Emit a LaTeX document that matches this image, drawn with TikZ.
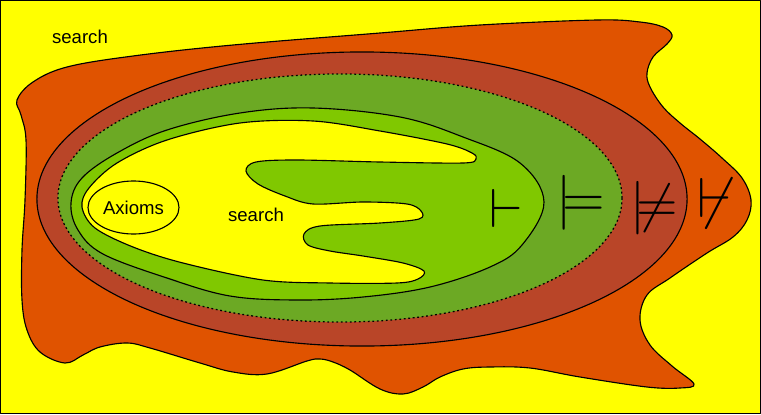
\documentclass[tikz,border=0pt]{standalone}
\usepackage{amsmath,amssymb}
\usepackage[no-math]{fontspec}
\setmainfont{Liberation Sans}
\usepackage{tikz}
\usetikzlibrary{calc,shapes.geometric}
\definecolor{bgyel}{HTML}{FFFF00}
\definecolor{srchorg}{HTML}{E05300}
\definecolor{entred}{HTML}{B94528}
\definecolor{modgrn}{HTML}{6CA924}
\definecolor{prvgrn}{HTML}{80C800}
\tikzset{outl/.style={draw=black,line width=0.8pt},
  lbl/.style={inner sep=0pt},
  sym/.style={inner sep=0pt,font=\fontsize{10}{10}\selectfont}}

\begin{document}
\begin{tikzpicture}[x=0.025cm,y=-0.025cm,line join=round,font=\fontsize{13.2}{15.8}\selectfont]
\useasboundingbox (0,0) rectangle (761,414);
% --- 1: background and outer search area
\draw[line width=1pt,fill=bgyel] (0.5,0.5) rectangle (760.5,413.5);
\draw[outl,fill=srchorg] plot[smooth cycle,tension=0.6] coordinates {
  (17,100) (33,82) (67,67) (133,56) (233,45) (380,33) (480,25) (597,20) (640,22) (663,27)
  (672,35) (667,44) (653,57) (647,73) (650,87) (663,107) (680,123) (700,139) (722,158)
  (742,178) (751,200) (747,220) (733,237) (707,253) (670,278) (647,295) (640,320) (650,345)
  (672,366) (694,384) (680,388) (647,387) (580,377) (530,368) (490,367) (463,369) (440,377)
  (423,387) (403,394) (380,389) (350,370) (333,362) (320,359) (307,361) (267,374) (233,372)
  (200,363) (150,348) (127,343) (100,347) (83,355) (65,363) (40,352) (27,330) (22,300)
  (22,250) (25,200) (26,140) (21,115)};
% --- 2: entailment rings
\draw[outl,fill=entred] (362,199) ellipse [x radius=8.125cm,y radius=3.675cm];
\draw[outl,line width=0.9pt,dash pattern=on 1.3pt off 1.9pt,fill=modgrn] (340,198) ellipse [x radius=7.05cm,y radius=3.1cm];
\draw[outl,fill=prvgrn] plot[smooth cycle,tension=0.6] coordinates {
  (71,203) (82,178) (117,153) (167,130) (240,113) (313,108) (400,117) (463,137) (520,163)
  (544,202) (522,245) (490,267) (430,287) (363,297) (297,300) (230,296) (167,278) (103,254)
  (78,230)};
% --- 3: inner search area, axioms
\draw[outl,fill=bgyel] plot[smooth cycle,tension=0.55] coordinates {
  (82,207) (89,188) (117,163) (167,140) (240,123) (313,121) (380,131) (447,144) (472,153)
  (476,159) (463,163) (380,162) (297,160) (256,162) (246,171) (258,184) (285,196) (313,204)
  (363,202) (407,204) (421,211) (419,219) (380,223) (320,226) (304,234) (308,245) (330,251)
  (363,256) (403,263) (424,271) (418,279) (397,283) (330,283) (263,280) (183,263) (133,247)
  (95,228)};
\node[outl,ellipse,inner sep=0pt,minimum width=2.275cm,minimum height=1.325cm] (axioms) at (133.5,207.5) {Axioms};
\node[lbl] (srchin) at (256,215) {search};
\node[lbl] (srchtop) at (80,37) {search};
% --- 4: turnstiles
\node[sym] (prov) at (506.5,208) {\scalebox{3.9}{$\vdash$}};
\node[sym] (ent) at (580.5,202.5) {\scalebox{3.9}{$\models$}};
\node[sym] (nent) at (654,208.5) {\scalebox{3.8}{$\mathrel{|}\joinrel\neq$}};
\node[sym] (nprov) at (715,203) {\scalebox{4}{$\not\vdash$}};
\end{tikzpicture}
\end{document}
